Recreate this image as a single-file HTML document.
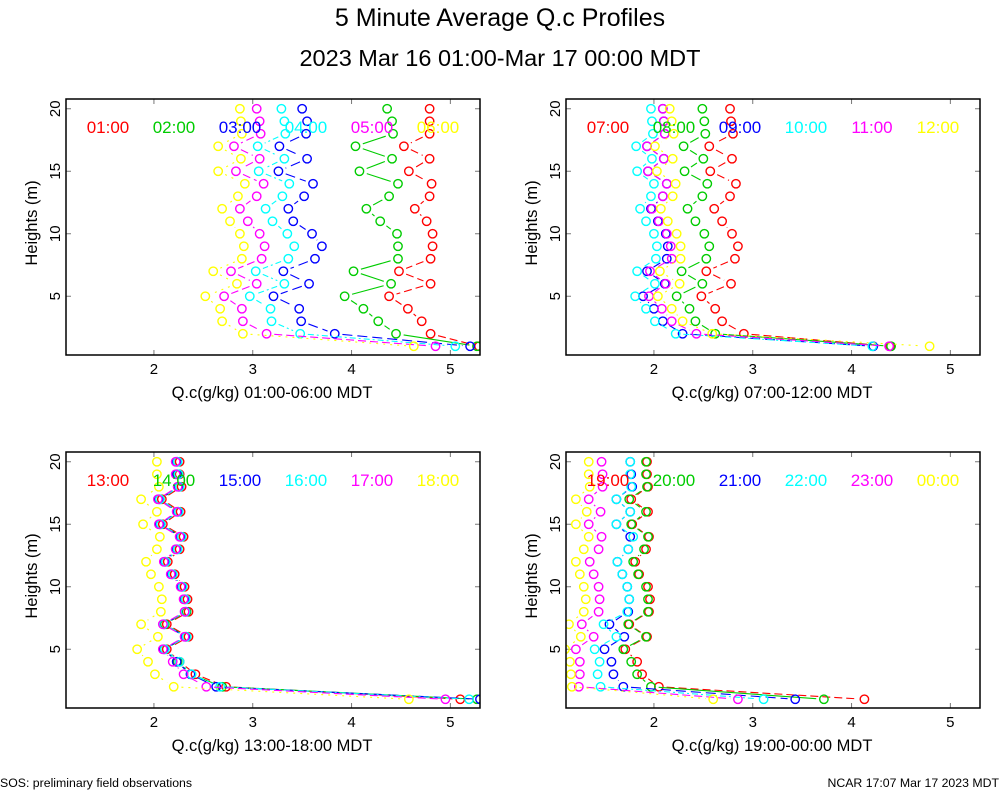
<!DOCTYPE html>
<html><head><meta charset="utf-8"><style>
html,body{margin:0;padding:0;background:#fff;}
svg{display:block;font-family:"Liberation Sans",sans-serif;}
</style></head><body>
<svg id="chart" width="1000" height="800" viewBox="0 0 1000 800">
<text x="500" y="26" text-anchor="middle" font-size="25">5 Minute Average Q.c Profiles</text>
<text x="500" y="66" text-anchor="middle" font-size="23.5">2023 Mar 16 01:00-Mar 17 00:00 MDT</text>
<text x="0" y="787" font-size="12.3">SOS: preliminary field observations</text>
<text x="999" y="787" text-anchor="end" font-size="12.3">NCAR 17:07 Mar 17 2023 MDT</text>
</svg>
<script>
const heights = [20,19,18,17,16,15,14,13,12,11,10,9,8,7,6,5,4,3,2,1];
const xTicks = [2,3,4,5];
const yTicks = [5,10,15,20];
const colors = ['#ff0000','#00cc00','#0000ff','#00ffff','#ff00ff','#ffff00'];
const dashes = ['8,4','none','10,5','6,3,2,3','8,4','2,5'];
const p1Labels = ['01:00','02:00','03:00','04:00','05:00','06:00'];
const p1Red = [4.79,4.79,4.79,4.53,4.79,4.58,4.81,4.79,4.64,4.76,4.82,4.82,4.80,4.48,4.80,4.38,4.57,4.71,4.80,5.29];
const p1Green = [4.36,4.41,4.42,4.04,4.41,4.08,4.47,4.38,4.15,4.29,4.46,4.47,4.47,4.02,4.40,3.93,4.12,4.27,4.45,5.27];
const p1Blue = [3.50,3.55,3.54,3.27,3.55,3.26,3.61,3.52,3.36,3.41,3.60,3.70,3.63,3.31,3.57,3.21,3.47,3.49,3.83,5.20];
const p1Cyan = [3.29,3.32,3.33,3.05,3.32,3.06,3.37,3.30,3.13,3.20,3.35,3.42,3.36,3.03,3.32,2.97,3.18,3.19,3.48,5.05];
const p1Magenta = [3.04,3.07,3.08,2.81,3.07,2.83,3.11,3.04,2.87,2.95,3.07,3.12,3.09,2.78,3.04,2.71,2.89,2.90,3.14,4.85];
const p1Yellow = [2.87,2.88,2.89,2.65,2.88,2.65,2.92,2.85,2.69,2.77,2.87,2.91,2.89,2.60,2.84,2.52,2.67,2.69,2.90,4.63];
const p2Labels = ['07:00','08:00','09:00','10:00','11:00','12:00'];
const p2Red = [2.77,2.78,2.80,2.56,2.79,2.57,2.83,2.77,2.61,2.69,2.79,2.85,2.82,2.53,2.78,2.48,2.62,2.69,2.91,4.39];
const p2Green = [2.49,2.51,2.52,2.30,2.50,2.31,2.54,2.49,2.34,2.42,2.51,2.56,2.53,2.28,2.49,2.23,2.36,2.42,2.62,4.40];
const p2Blue = [2.09,2.10,2.11,1.93,2.10,1.94,2.13,2.09,1.97,2.04,2.12,2.14,2.13,1.93,2.11,1.89,2.00,2.09,2.29,4.22];
const p2Cyan = [1.97,1.98,1.99,1.82,1.98,1.83,2.00,1.97,1.86,1.92,2.00,2.03,2.02,1.83,2.01,1.81,1.92,2.01,2.22,4.21];
const p2Magenta = [2.09,2.10,2.11,1.93,2.10,1.94,2.13,2.09,1.98,2.05,2.13,2.17,2.18,1.96,2.12,1.95,2.08,2.18,2.43,4.38];
const p2Yellow = [2.16,2.18,2.20,2.01,2.19,2.03,2.22,2.19,2.07,2.14,2.23,2.27,2.27,2.06,2.26,2.04,2.18,2.29,2.59,4.79];
const p3Labels = ['13:00','14:00','15:00','16:00','17:00','18:00'];
const p3Red = [2.26,2.26,2.28,2.08,2.27,2.09,2.30,2.26,2.14,2.21,2.31,2.34,2.35,2.13,2.35,2.13,2.26,2.42,2.73,5.10];
const p3Green = [2.24,2.24,2.26,2.06,2.25,2.07,2.28,2.24,2.12,2.19,2.29,2.32,2.33,2.11,2.33,2.11,2.24,2.38,2.69,5.27];
const p3Blue = [2.23,2.23,2.25,2.05,2.24,2.06,2.27,2.23,2.11,2.18,2.28,2.31,2.32,2.10,2.32,2.10,2.23,2.37,2.63,5.30];
const p3Cyan = [2.24,2.25,2.26,2.06,2.25,2.07,2.28,2.24,2.12,2.19,2.29,2.32,2.32,2.10,2.33,2.11,2.26,2.38,2.67,5.19];
const p3Magenta = [2.22,2.22,2.24,2.04,2.23,2.05,2.26,2.22,2.10,2.17,2.27,2.30,2.31,2.09,2.31,2.09,2.19,2.30,2.53,4.95];
const p3Yellow = [2.03,2.03,2.05,1.87,2.03,1.89,2.06,2.03,1.92,1.97,2.05,2.08,2.07,1.87,2.04,1.83,1.94,2.01,2.20,4.58];
const p4Labels = ['19:00','20:00','21:00','22:00','23:00','00:00'];
const p4Red = [1.93,1.93,1.94,1.77,1.94,1.78,1.95,1.92,1.81,1.85,1.94,1.96,1.95,1.75,1.93,1.71,1.83,1.88,2.05,4.13];
const p4Green = [1.92,1.92,1.93,1.75,1.92,1.77,1.94,1.90,1.79,1.84,1.92,1.94,1.94,1.74,1.92,1.69,1.77,1.83,1.97,3.72];
const p4Blue = [1.76,1.77,1.78,1.62,1.76,1.62,1.76,1.74,1.63,1.68,1.73,1.75,1.74,1.55,1.70,1.50,1.57,1.59,1.69,3.43];
const p4Cyan = [1.76,1.76,1.77,1.62,1.76,1.62,1.79,1.74,1.63,1.68,1.73,1.75,1.73,1.49,1.62,1.40,1.45,1.43,1.46,3.11];
const p4Magenta = [1.47,1.48,1.48,1.34,1.46,1.34,1.47,1.44,1.35,1.39,1.44,1.45,1.44,1.27,1.39,1.21,1.25,1.25,1.24,2.85];
const p4Yellow = [1.34,1.34,1.35,1.21,1.32,1.21,1.34,1.29,1.21,1.25,1.29,1.31,1.29,1.14,1.26,1.10,1.15,1.16,1.17,2.60];

const NS='http://www.w3.org/2000/svg';
const svg=document.getElementById('chart');
const XMIN=1.11, XMAX=5.30, YMAX=20.78, PXY=12.5, W=414, H=256;
function mk(tag,attrs,parent){const e=document.createElementNS(NS,tag);for(const k in attrs)e.setAttribute(k,attrs[k]);(parent||svg).appendChild(e);return e;}

function panel(idx,left,top,labels,series,xtitle){
  const g=mk('g',{});
  
  
  const sx=v=>left+(v-XMIN)/(XMAX-XMIN)*W;
  const sy=v=>top+(YMAX-v)*PXY;
  const cid='clip'+idx;
  const cp=mk('clipPath',{id:cid},g);
  mk('rect',{x:left,y:top,width:W,height:H},cp);
  xTicks.forEach(t=>{
    const x=sx(t);
    const tk=mk('line',{x1:x,y1:top+H,x2:x,y2:top+H-5,stroke:'#777','stroke-width':1},g);
    
    
    mk('line',{x1:x,y1:top,x2:x,y2:top+5,stroke:'#777','stroke-width':1},g);
    const tl=mk('text',{x:x,y:top+H+19,'text-anchor':'middle','font-size':15},g);
    
    
    tl.textContent=t;
  });
  yTicks.forEach(t=>{
    const y=sy(t);
    const tk=mk('line',{x1:left,y1:y,x2:left+5,y2:y,stroke:'#777','stroke-width':1},g);
    
    
    mk('line',{x1:left+W,y1:y,x2:left+W-5,y2:y,stroke:'#777','stroke-width':1},g);
    const tl=mk('text',{x:0,y:0,'text-anchor':'middle','font-size':15,transform:`translate(${left-6},${y}) rotate(-90)`},g);
    
    
    tl.textContent=t;
  });
  const yt=mk('text',{x:0,y:0,'text-anchor':'middle','font-size':16.5,transform:`translate(${left-29},${top+H/2-4}) rotate(-90)`},g);
  
  
  yt.textContent='Heights (m)';
  const xt=mk('text',{x:left+W/2-1,y:top+H+43,'text-anchor':'middle','font-size':16.5},g);
  
  
  xt.textContent=xtitle;
  const pg=mk('g',{'clip-path':`url(#${cid})`},g);
  series.forEach((vals,si)=>{
    const sg=mk('g',{},pg);
    
    
    const r=4.2;
    for(let i=0;i<vals.length-1;i++){
      const x1=sx(vals[i]),y1=sy(heights[i]),x2=sx(vals[i+1]),y2=sy(heights[i+1]);
      const dx=x2-x1,dy=y2-y1,L=Math.hypot(dx,dy),gap=r+3.5;
      if(L<=2*gap)continue;
      const ux=dx/L,uy=dy/L;
      const ln=mk('line',{x1:x1+ux*gap,y1:y1+uy*gap,x2:x2-ux*gap,y2:y2-uy*gap,stroke:colors[si],'stroke-width':1.1,'stroke-dasharray':dashes[si]},sg);
      
      
    }
    vals.forEach((v,i)=>{
      const c=mk('circle',{cx:sx(v),cy:sy(heights[i]),r:r,fill:'none',stroke:colors[si],'stroke-width':1.4},sg);
      
      
    });
  });
  labels.forEach((lb,si)=>{
    const t=mk('text',{x:left+42+si*66,y:top+34,'text-anchor':'middle','font-size':17,fill:colors[si]},g);
    
    
    t.textContent=lb;
  });
  const fr=mk('rect',{x:left,y:top,width:W,height:H,fill:'none',stroke:'#000','stroke-width':1.5},g);
  
  
}
panel(0,66,99,p1Labels,[p1Red,p1Green,p1Blue,p1Cyan,p1Magenta,p1Yellow],'Q.c(g/kg) 01:00-06:00 MDT');
panel(1,566,99,p2Labels,[p2Red,p2Green,p2Blue,p2Cyan,p2Magenta,p2Yellow],'Q.c(g/kg) 07:00-12:00 MDT');
panel(2,66,452,p3Labels,[p3Red,p3Green,p3Blue,p3Cyan,p3Magenta,p3Yellow],'Q.c(g/kg) 13:00-18:00 MDT');
panel(3,566,452,p4Labels,[p4Red,p4Green,p4Blue,p4Cyan,p4Magenta,p4Yellow],'Q.c(g/kg) 19:00-00:00 MDT');
</script>
</body></html>
